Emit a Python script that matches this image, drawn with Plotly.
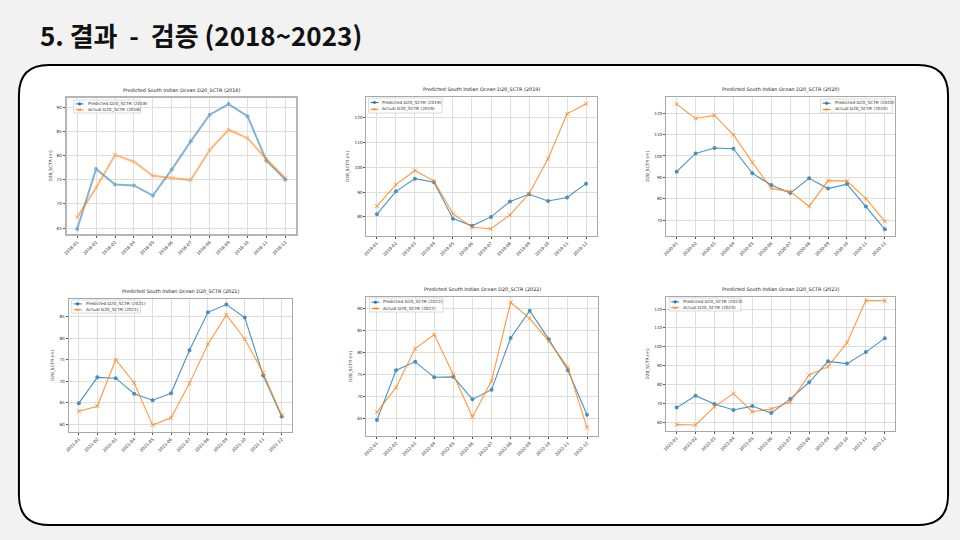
import plotly.graph_objects as go

# ---------------- data ----------------
years = ["2018", "2019", "2020", "2021", "2022", "2023"]
month_nums = ["01", "02", "03", "04", "05", "06", "07", "08", "09", "10", "11", "12"]

pred_2018 = [64.8, 77.2, 74.0, 73.8, 71.7, 77.1, 82.9, 88.4, 90.6, 88.1, 78.9, 75.0]
act_2018 = [67.2, 73.3, 80.1, 78.7, 75.8, 75.3, 74.9, 81.1, 85.3, 83.6, 79.2, 75.3]

pred_2019 = [81.1, 90.3, 95.4, 94.0, 79.3, 76.4, 80.0, 86.2, 89.1, 86.4, 87.8, 93.4]
act_2019 = [84.3, 93.0, 98.7, 94.4, 81.3, 75.8, 75.2, 80.8, 89.3, 103.4, 121.5, 125.6]

pred_2020 = [92.7, 101.2, 103.7, 103.4, 91.9, 86.5, 82.7, 89.6, 84.8, 86.9, 76.4, 65.8]
act_2020 = [124.2, 117.5, 118.9, 109.9, 97.0, 84.9, 83.4, 76.5, 88.5, 88.3, 80.1, 69.5]

pred_2021 = [64.9, 70.9, 70.7, 67.1, 65.6, 67.2, 77.2, 86.0, 87.8, 84.8, 71.3, 61.8]
act_2021 = [63.0, 64.2, 75.0, 69.6, 59.8, 61.5, 69.5, 78.6, 85.4, 79.8, 71.9, 62.1]

pred_2022 = [64.7, 76.0, 77.9, 74.4, 74.5, 69.4, 71.6, 83.3, 89.5, 83.0, 76.0, 65.9]
act_2022 = [66.5, 72.1, 80.9, 84.1, 75.0, 65.4, 73.6, 91.4, 87.7, 82.6, 76.6, 63.0]

pred_2023 = [67.8, 74.1, 69.7, 66.5, 68.6, 64.9, 72.4, 81.2, 92.3, 91.1, 97.2, 104.6]
act_2023 = [58.8, 58.6, 68.3, 75.2, 65.6, 67.1, 70.8, 85.1, 89.5, 102.2, 124.6, 124.4]

predicted = [pred_2018, pred_2019, pred_2020, pred_2021, pred_2022, pred_2023]
actual = [act_2018, act_2019, act_2020, act_2021, act_2022, act_2023]

slide_title = "5. 결과&nbsp;&nbsp;-&nbsp;&nbsp;검증 (2018~2023)"
ytitle = "D20_SCTR (m)"

# ---------------- layout specs (pixels) ----------------
W, H = 960, 540
def fx(p):
    return p / W
def fy(p):
    return 1 - p / H

# plot boxes: x0, y0, x1, y1
boxes = [(63, 98, 293, 234), (364, 97, 595, 236), (665, 97, 895, 236),
         (65, 299, 289, 432), (364, 297, 596, 436), (665, 297, 895, 431)]
yranges = [(63.76, 91.86), (72.3, 128.3), (62.7, 127.5),
           (58.2, 89.1), (61.1, 92.6), (55.4, 126.4)]
dticks = [5, 10, 10, 5, 5, 10]
# legend boxes: x, y, w, h
legs = [(70, 100, 67, 13), (366, 98, 74, 15), (820, 99, 72, 14),
        (68, 300, 69, 13), (367, 298, 74, 14), (668, 298, 72, 13)]

BLUE = "#1f77b4"
ORANGE = "#ff7f0e"
FONT = "DejaVu Sans"

fig = go.Figure()
shapes = []
annotations = []

# slide card
x0, y0, x1, y1, r = 15, 65, 948, 525, 30
def P(x, y):
    return f"{fx(x):.5f},{fy(y):.5f}"
path = (f"M {P(x0 + r, y0)} L {P(x1 - r, y0)} Q {P(x1, y0)} {P(x1, y0 + r)} "
        f"L {P(x1, y1 - r)} Q {P(x1, y1)} {P(x1 - r, y1)} L {P(x0 + r, y1)} "
        f"Q {P(x0, y1)} {P(x0, y1 - r)} L {P(x0, y0 + r)} Q {P(x0, y0)} {P(x0 + r, y0)} Z")
shapes.append(dict(type="path", path=path, xref="paper", yref="paper",
                   fillcolor="white", line=dict(color="black", width=2), layer="below"))

annotations.append(dict(text=f"<b>{slide_title}</b>", x=fx(34), y=fy(35), xref="paper", yref="paper",
                        xanchor="left", yanchor="middle", showarrow=False,
                        font=dict(family="Noto Sans CJK KR", size=26, color="#111")))

layout_axes = {}
for i, yr in enumerate(years):
    n = "" if i == 0 else str(i + 1)
    cats = [f"{yr}-{m}" for m in month_nums]
    bx0, by0, bx1, by1 = boxes[i]
    first = (i == 0)
    lw = 2.0 if first else 1.1
    op = 0.55 if first else 0.8
    fig.add_trace(go.Scatter(x=cats, y=predicted[i], mode="lines+markers",
                             name=f"Predicted D20_SCTR ({yr})", xaxis="x" + n, yaxis="y" + n,
                             line=dict(color=BLUE, width=lw), opacity=op,
                             marker=dict(symbol="circle", size=4, color=BLUE),
                             showlegend=False))
    fig.add_trace(go.Scatter(x=cats, y=actual[i], mode="lines+markers",
                             name=f"Actual D20_SCTR ({yr})", xaxis="x" + n, yaxis="y" + n,
                             line=dict(color=ORANGE, width=lw), opacity=op,
                             marker=dict(symbol="x-thin", size=4, color=ORANGE,
                                         line=dict(color=ORANGE, width=1)),
                             showlegend=False))
    framecol = "#b5b5b5" if first else "#a8a8a8"
    framew = 2 if first else 1
    layout_axes["xaxis" + n] = dict(
        domain=[fx(bx0), fx(bx1)], anchor="y" + n, type="category",
        range=[-0.55, 11.55], tickangle=-45, showgrid=True, gridcolor="#dedede", gridwidth=0.8,
        showline=True, mirror=True, linecolor=framecol, linewidth=framew,
        ticks="outside", ticklen=2, tickcolor="#555", tickwidth=0.6,
        tickfont=dict(size=4.3, color="#333", family=FONT), zeroline=False)
    layout_axes["yaxis" + n] = dict(
        domain=[fy(by1), fy(by0)], anchor="x" + n, range=list(yranges[i]), dtick=dticks[i],
        showgrid=True, gridcolor="#dedede", gridwidth=0.8,
        showline=True, mirror=True, linecolor=framecol, linewidth=framew,
        ticks="outside", ticklen=2, tickcolor="#555", tickwidth=0.6,
        tickfont=dict(size=4.3, color="#333", family=FONT), zeroline=False,
        title=dict(text=ytitle, font=dict(size=4.3, color="#333", family=FONT), standoff=4))
    # subplot title
    annotations.append(dict(text=f"Predicted South Indian Ocean D20_SCTR ({yr})",
                            x=fx((bx0 + bx1) / 2), y=fy(by0 - 2), xref="paper", yref="paper",
                            xanchor="center", yanchor="bottom", showarrow=False,
                            font=dict(size=4.9, color="#222", family=FONT)))
    # manual legend
    lx, ly, lw_, lh = legs[i]
    shapes.append(dict(type="rect", xref="paper", yref="paper",
                       x0=fx(lx), x1=fx(lx + lw_), y0=fy(ly + lh), y1=fy(ly),
                       fillcolor="rgba(255,255,255,0.85)", line=dict(color="#cccccc", width=0.7),
                       layer="above"))
    for k, (col, label) in enumerate([(BLUE, f"Predicted D20_SCTR ({yr})"),
                                      (ORANGE, f"Actual D20_SCTR ({yr})")]):
        yy = ly + lh * (0.3 if k == 0 else 0.75)
        shapes.append(dict(type="line", xref="paper", yref="paper",
                           x0=fx(lx + 2), x1=fx(lx + 10), y0=fy(yy), y1=fy(yy),
                           line=dict(color=col, width=1), layer="above"))
        cx = lx + 6
        if k == 0:
            shapes.append(dict(type="circle", xref="paper", yref="paper",
                               x0=fx(cx - 1.3), x1=fx(cx + 1.3), y0=fy(yy + 1.3), y1=fy(yy - 1.3),
                               fillcolor=col, line=dict(color=col, width=0.5), layer="above"))
        else:
            for dx in (-1, 1):
                shapes.append(dict(type="line", xref="paper", yref="paper",
                                   x0=fx(cx - 1.3), x1=fx(cx + 1.3),
                                   y0=fy(yy - 1.3 * dx), y1=fy(yy + 1.3 * dx),
                                   line=dict(color=col, width=0.8), layer="above"))
        annotations.append(dict(text=label, x=fx(lx + 12), y=fy(yy), xref="paper", yref="paper",
                                xanchor="left", yanchor="middle", showarrow=False,
                                font=dict(size=4.3, color="#333", family=FONT)))

fig.update_layout(width=W, height=H, margin=dict(l=0, r=0, t=0, b=0),
                  paper_bgcolor="#f2f2f2", plot_bgcolor="white",
                  shapes=shapes, annotations=annotations, showlegend=False,
                  **layout_axes)

fig.write_html("out.html")
